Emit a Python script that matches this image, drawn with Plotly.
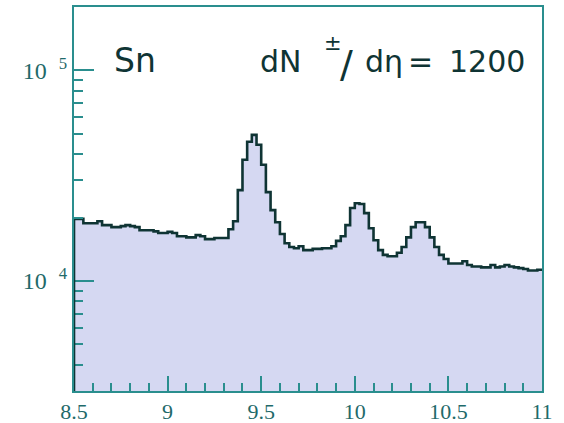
import numpy as np
import plotly.graph_objects as go

# Invariant-mass spectrum, 100 bins of 0.025 between 8.5 and 11
bin_lo = 8.5
bin_width = 0.025
counts = [
    19700, 19700, 18800, 18800, 18800, 19200, 18400, 18400, 18000, 18000,
    18200, 18400, 18200, 18000, 17400, 17400, 17400, 17200, 16900, 16900,
    17100, 16900, 16300, 16300, 16100, 16100, 16500, 16300, 15800, 15800,
    16000, 16000, 16000, 17600, 19200, 27000, 37600, 45800, 49400, 44300,
    35600, 26400, 21700, 19000, 16700, 15100, 14500, 14300, 14600, 14000,
    14000, 14200, 14200, 14300, 14300, 14600, 15500, 16300, 18400, 22200,
    23400, 23200, 21000, 17800, 15600, 14000, 13300, 13100, 13100, 13600,
    14500, 16100, 18000, 19000, 19000, 18000, 16100, 14500, 13300, 12700,
    12100, 12100, 12100, 12400, 11900, 11700, 11700, 11600, 11600, 11900,
    11600, 11700, 11900, 11700, 11600, 11500, 11400, 11200, 11200, 11300,
]

x_ticks = [8.5, 9, 9.5, 10, 10.5, 11]
x_tick_text = ["8.5", "9", "9.5", "10", "10.5", "11"]
y_ticks = [1e4, 1e5]
y_tick_text = ["10&nbsp;&nbsp;<sup>4</sup>", "10&nbsp;&nbsp;<sup>5</sup>"]

y_min, y_max = 3000, 2.0e5

FRAME = "#2a8e8e"
TICKFONT = "#1f6a6a"
INK = "#0f3434"
FILL = "#d5d8f2"

edges = bin_lo + bin_width * np.arange(len(counts) + 1)
step_y = counts + [counts[-1]]
floor = y_min / 10

fig = go.Figure()

# filled area under the histogram
fig.add_trace(go.Scatter(
    x=[edges[0]] + list(edges) + [edges[-1]],
    y=[floor] + step_y + [floor],
    mode="lines", line=dict(width=0, shape="hv"),
    fill="toself", fillcolor=FILL, hoverinfo="skip", showlegend=False,
))
# histogram outline
fig.add_trace(go.Scatter(
    x=list(edges), y=step_y, mode="lines",
    line=dict(color=INK, width=2.6, shape="hv"),
    showlegend=False,
))

# left edge of the first bin, drawn above the frame
fig.add_shape(type="line", xref="x", yref="y",
              x0=edges[0], x1=edges[0], y0=y_min, y1=counts[0],
              line=dict(color=INK, width=2.6), layer="above")

minor_y = [m * 10 ** e for e in (3, 4, 5) for m in range(2, 10)
           if y_min < m * 10 ** e < y_max and m * 10 ** e not in y_ticks]

W, H = 564, 423
L, R, T, B = 74, 22, 7, 32


def px(xp):
    return (xp - L) / (W - L - R)


def py(yp):
    return (H - B - yp) / (H - T - B)


fig.update_layout(
    width=W, height=H,
    margin=dict(l=L, r=R, t=T, b=B),
    paper_bgcolor="white", plot_bgcolor="white",
    showlegend=False,
    xaxis=dict(
        range=[edges[0], edges[-1]], automargin=False,
        tickvals=x_ticks, ticktext=x_tick_text,
        ticks="inside", ticklen=15, tickwidth=2, tickcolor=FRAME,
        minor=dict(dtick=0.1, tick0=8.5, ticks="inside", ticklen=8,
                   tickwidth=2, tickcolor=FRAME),
        showline=True, linecolor=FRAME, linewidth=2, mirror=True,
        showgrid=False, zeroline=False,
        tickfont=dict(family="Liberation Serif", size=22, color=TICKFONT),
    ),
    yaxis=dict(
        type="log", automargin=False,
        range=[np.log10(y_min), np.log10(y_max)],
        tickvals=y_ticks, ticktext=y_tick_text,
        ticks="inside", ticklen=20, tickwidth=2, tickcolor=FRAME,
        minor=dict(tickvals=minor_y, ticks="inside", ticklen=9,
                   tickwidth=2, tickcolor=FRAME),
        showline=True, linecolor=FRAME, linewidth=2, mirror=True,
        showgrid=False, zeroline=False,
        tickfont=dict(family="Liberation Serif", size=24, color=TICKFONT),
    ),
)

# labels inside the frame
labels = [
    ("Sn", 112, 60, 33),
    ("dN", 258, 61, 30),
    ("±", 322, 43, 21),
    ("/", 338, 64, 38),
    ("dη", 363, 61, 30),
    ("=", 406, 61, 30),
    ("1200", 447, 61, 30),
]
for text, xp, yp, size in labels:
    fig.add_annotation(
        text=text, xref="paper", yref="paper", x=px(xp), y=py(yp),
        xanchor="left", yanchor="middle", showarrow=False,
        font=dict(family="DejaVu Sans", size=size, color=INK),
    )

fig.write_html("out.html")
